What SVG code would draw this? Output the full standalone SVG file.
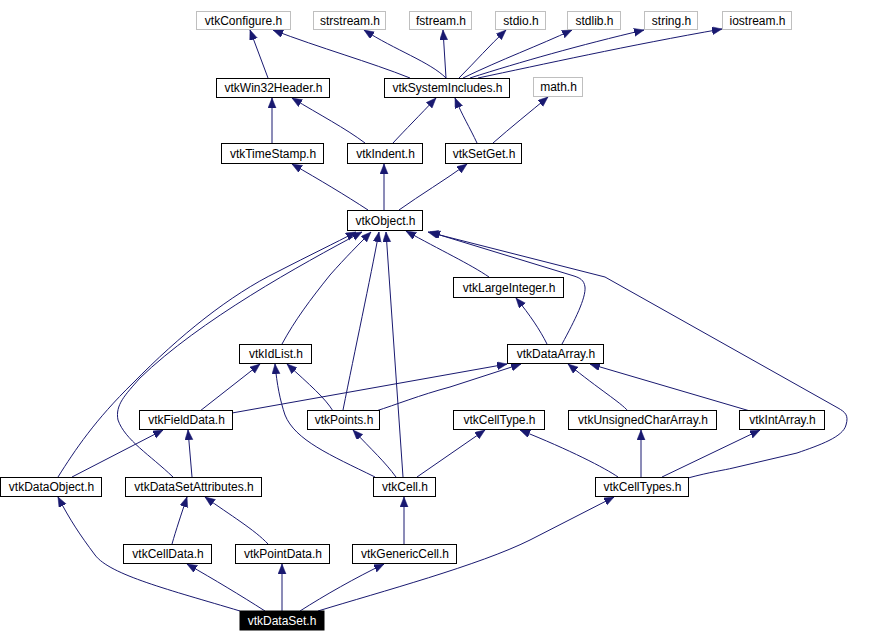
<svg xmlns="http://www.w3.org/2000/svg" width="885" height="642" viewBox="0 0 885 642">
<style>
.n rect{fill:#fff;stroke:#000;stroke-width:1}
.g rect{fill:#fff;stroke:#bfbfbf;stroke-width:1}
text{font-family:"Liberation Sans",Arial,sans-serif;font-size:12px;fill:#000;text-anchor:middle}
#vtkDataSet rect{fill:#000}
#vtkDataSet text{fill:#fff}
#edges path{fill:none;stroke:#191970;stroke-width:1;marker-end:url(#ah)}
</style>
<defs>
<marker id="ah" markerUnits="userSpaceOnUse" markerWidth="11" markerHeight="9" refX="10" refY="4" orient="auto">
<path d="M0,0 L10,4 L0,8 z" fill="#191970" stroke="#191970" stroke-width="0.5"/>
</marker>
</defs>
<rect width="885" height="642" fill="#fff"/>
<g id="edges">
<path d="M268,78 L250,30"/>
<path d="M410,78 C370,62 320,48 273,30"/>
<path d="M446,78 C430,62 395,50 364,30"/>
<path d="M446,78 L443,30"/>
<path d="M459,78 C475,62 490,45 506,30"/>
<path d="M463,78 C500,60 540,45 572,30"/>
<path d="M470,78 C520,62 580,45 644,30"/>
<path d="M478,78 C540,65 630,45 722,29"/>
<path d="M272,143 L272,98"/>
<path d="M365,143 C345,128 320,115 292,98"/>
<path d="M393,143 C405,130 420,115 436,98"/>
<path d="M477,143 C470,128 462,115 455,98"/>
<path d="M493,143 C510,128 530,112 548,97"/>
<path d="M368,210 C345,195 320,180 292,164"/>
<path d="M384,210 L384,164"/>
<path d="M399,210 C420,195 445,180 467,164"/>
<path d="M489,277 C470,264 440,250 406,231"/>
<path d="M562,344 C575,320 586,298 585,287 C584,280 580,278 574,276 L430,232"/>
<path d="M688,478 C710,472 725,470 733,468 L797,453 C820,445 843,437 846,425 C849,415 845,412 838,408 L605,277 L428,232"/>
<path d="M282,344 C295,320 310,300 330,275 C345,258 360,243 371,232"/>
<path d="M343,410 C355,350 370,280 379,232"/>
<path d="M403,477 L386,232"/>
<path d="M58,477 C75,450 95,420 133,383 C180,335 230,295 277,272 C310,255 335,243 356,232"/>
<path d="M173,477 C150,455 125,440 118,420 C115,405 125,395 140,378 C200,320 300,265 362,232"/>
<path d="M200,411 C220,395 240,380 260,364"/>
<path d="M333,411 C325,398 310,385 287,364"/>
<path d="M375,477 C330,455 295,440 285,415 C280,400 277,385 275,364"/>
<path d="M232,413 L507,364"/>
<path d="M376,411 C395,405 420,395 450,387 L521,364"/>
<path d="M628,411 C620,402 600,390 568,364"/>
<path d="M750,411 L590,364"/>
<path d="M547,344 C540,330 530,315 516,298"/>
<path d="M72,477 L163,430"/>
<path d="M192,477 L188,430"/>
<path d="M396,477 C385,462 372,450 353,430"/>
<path d="M417,477 L485,430"/>
<path d="M618,477 C605,468 570,450 520,430"/>
<path d="M641,477 L641,430"/>
<path d="M662,477 L760,430"/>
<path d="M172,544 C176,530 181,515 187,497"/>
<path d="M268,544 C255,530 230,515 205,497"/>
<path d="M404,544 L404,497"/>
<path d="M240,611 C170,590 110,575 95,555 C80,535 70,520 58,497"/>
<path d="M265,611 C240,595 215,580 187,564"/>
<path d="M282,611 L282,564"/>
<path d="M300,611 C325,595 355,578 384,564"/>
<path d="M318,611 C380,592 480,565 530,540 L614,497"/>
</g>
<g id="vtkConfigure" class="g"><rect x="196.5" y="11.5" width="94" height="18"/><text x="243.5" y="25">vtkConfigure.h</text></g>
<g id="strstream" class="g"><rect x="313.5" y="11.5" width="72" height="18"/><text x="350" y="25">strstream.h</text></g>
<g id="fstream" class="g"><rect x="409.5" y="11.5" width="62" height="18"/><text x="441" y="25">fstream.h</text></g>
<g id="stdio" class="g"><rect x="495.5" y="11.5" width="50" height="18"/><text x="521" y="25">stdio.h</text></g>
<g id="stdlib" class="g"><rect x="567.5" y="11.5" width="53" height="18"/><text x="594.5" y="25">stdlib.h</text></g>
<g id="string" class="g"><rect x="644.5" y="11.5" width="53" height="18"/><text x="671.5" y="25">string.h</text></g>
<g id="iostream" class="g"><rect x="722.5" y="11.5" width="69" height="18"/><text x="757.5" y="25">iostream.h</text></g>
<g id="math" class="g"><rect x="533.5" y="77.5" width="49" height="19"/><text x="558.5" y="91">math.h</text></g>
<g id="vtkWin32Header" class="n"><rect x="216.5" y="78.5" width="113" height="19"/><text x="273.5" y="92">vtkWin32Header.h</text></g>
<g id="vtkSystemIncludes" class="n"><rect x="384.5" y="78.5" width="125" height="19"/><text x="447.5" y="92">vtkSystemIncludes.h</text></g>
<g id="vtkTimeStamp" class="n"><rect x="221.5" y="143.5" width="102" height="20"/><text x="273" y="158">vtkTimeStamp.h</text></g>
<g id="vtkIndent" class="n"><rect x="347.5" y="143.5" width="75" height="20"/><text x="385.5" y="158">vtkIndent.h</text></g>
<g id="vtkSetGet" class="n"><rect x="445.5" y="143.5" width="76" height="20"/><text x="484" y="158">vtkSetGet.h</text></g>
<g id="vtkObject" class="n"><rect x="347.5" y="210.5" width="75" height="20"/><text x="385.5" y="225">vtkObject.h</text></g>
<g id="vtkLargeInteger" class="n"><rect x="453.5" y="277.5" width="110" height="20"/><text x="509" y="292">vtkLargeInteger.h</text></g>
<g id="vtkIdList" class="n"><rect x="239.5" y="344.5" width="72" height="19"/><text x="276" y="358">vtkIdList.h</text></g>
<g id="vtkDataArray" class="n"><rect x="507.5" y="344.5" width="96" height="19"/><text x="556" y="358">vtkDataArray.h</text></g>
<g id="vtkFieldData" class="n"><rect x="139.5" y="410.5" width="93" height="19"/><text x="186.5" y="424">vtkFieldData.h</text></g>
<g id="vtkPoints" class="n"><rect x="307.5" y="410.5" width="72" height="19"/><text x="344" y="424">vtkPoints.h</text></g>
<g id="vtkCellType" class="n"><rect x="453.5" y="410.5" width="91" height="19"/><text x="499.5" y="424">vtkCellType.h</text></g>
<g id="vtkUnsignedCharArray" class="n"><rect x="568.5" y="410.5" width="148" height="19"/><text x="643" y="424">vtkUnsignedCharArray.h</text></g>
<g id="vtkIntArray" class="n"><rect x="739.5" y="410.5" width="85" height="19"/><text x="782.5" y="424">vtkIntArray.h</text></g>
<g id="vtkDataObject" class="n"><rect x="0.5" y="477.5" width="101" height="19"/><text x="51.5" y="491">vtkDataObject.h</text></g>
<g id="vtkDataSetAttributes" class="n"><rect x="125.5" y="477.5" width="136" height="19"/><text x="194" y="491">vtkDataSetAttributes.h</text></g>
<g id="vtkCell" class="n"><rect x="373.5" y="477.5" width="62" height="19"/><text x="405" y="491">vtkCell.h</text></g>
<g id="vtkCellTypes" class="n"><rect x="595.5" y="477.5" width="93" height="19"/><text x="642.5" y="491">vtkCellTypes.h</text></g>
<g id="vtkCellData" class="n"><rect x="123.5" y="544.5" width="88" height="19"/><text x="168" y="558">vtkCellData.h</text></g>
<g id="vtkPointData" class="n"><rect x="235.5" y="544.5" width="94" height="19"/><text x="283" y="558">vtkPointData.h</text></g>
<g id="vtkGenericCell" class="n"><rect x="352.5" y="544.5" width="104" height="19"/><text x="405" y="558">vtkGenericCell.h</text></g>
<g id="vtkDataSet" class="n"><rect x="240" y="611" width="84" height="19"/><text x="282" y="625">vtkDataSet.h</text></g>
</svg>
